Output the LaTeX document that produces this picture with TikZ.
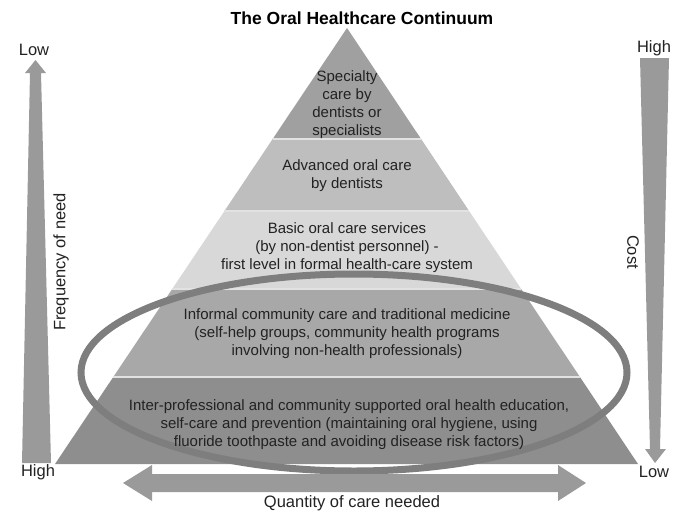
\documentclass[tikz,border=0pt]{standalone}
\usepackage{fontspec}
\setmainfont{Liberation Sans}
\usetikzlibrary{calc}
\definecolor{bandA}{HTML}{A0A0A0}
\definecolor{bandB}{HTML}{BEBEBE}
\definecolor{bandC}{HTML}{D8D8D8}
\definecolor{bandD}{HTML}{A8A8A8}
\definecolor{bandE}{HTML}{8E8E8E}
\definecolor{seam}{HTML}{E2E2E2}
\definecolor{ringcol}{HTML}{7E7E7E}
\definecolor{arrowcol}{HTML}{9A9A9A}
\definecolor{txt}{HTML}{222222}
\tikzset{
  band/.style={draw=seam, line width=1.2pt},
  bodytext/.style={align=center, text=txt, font=\fontsize{15}{18}\selectfont, inner sep=0pt},
  labeltext/.style={text=txt, font=\fontsize{16.5}{19}\selectfont, inner sep=0pt},
  bigarrow/.style={fill=arrowcol, draw=none}
}
\begin{document}
\begin{tikzpicture}[x=1pt,y=-1pt]
\useasboundingbox (0,0) rectangle (688,522);
\coordinate (A) at (347,28);
\coordinate (BL) at (55,464);
\coordinate (BR) at (638,464);
% pyramid bands
\fill[bandA] (A) -- ($(A)!0.2546!(BL)$) -- ($(A)!0.2546!(BR)$) -- cycle;
\fill[bandB] ($(A)!0.2546!(BL)$) -- ($(A)!0.4197!(BL)$) -- ($(A)!0.4197!(BR)$) -- ($(A)!0.2546!(BR)$) -- cycle;
\fill[bandC] ($(A)!0.4197!(BL)$) -- ($(A)!0.5986!(BL)$) -- ($(A)!0.5986!(BR)$) -- ($(A)!0.4197!(BR)$) -- cycle;
\fill[bandD] ($(A)!0.5986!(BL)$) -- ($(A)!0.8005!(BL)$) -- ($(A)!0.8005!(BR)$) -- ($(A)!0.5986!(BR)$) -- cycle;
\fill[bandE] ($(A)!0.8005!(BL)$) -- (BL) -- (BR) -- ($(A)!0.8005!(BR)$) -- cycle;
\foreach \t in {0.2546,0.4197,0.5986,0.8005}
  \draw[seam, line width=1.2pt] ($(A)!\t!(BL)$) -- ($(A)!\t!(BR)$);
% ellipse
\draw[ringcol, line width=7pt] (354,372.5) ellipse [x radius=273, y radius=98.5];
% texts in pyramid
\node[bodytext] (t1) at (347,105) {Specialty\\care by\\dentists or\\specialists};
\node[bodytext] (t2) at (347,176) {Advanced oral care\\by dentists};
\node[bodytext] (t3) at (347,248) {Basic oral care services\\(by non-dentist personnel) -\\first level in formal health-care system};
\node[bodytext] (t4) at (347,334) {Informal community care and traditional medicine\\(self-help groups, community health programs\\involving non-health professionals)};
\node[bodytext] (t5) at (349,425) {Inter-professional and community supported oral health education,\\self-care and prevention (maintaining oral hygiene, using\\fluoride toothpaste and avoiding disease risk factors)};
% title
\node[text=black, font=\fontsize{17.5}{20}\selectfont\bfseries, inner sep=0pt] (title) at (362,18) {The Oral Healthcare Continuum};
% left arrow (frequency)
\fill[bigarrow] (22,463) -- (30,73) -- (25,73) -- (35.5,60) -- (46,73) -- (41,73) -- (51,463) -- cycle;
% right arrow (cost)
\fill[bigarrow] (640,58) -- (669,58) -- (660,449) -- (666,449) -- (655,463) -- (645,449) -- (650,449) -- cycle;
% bottom double arrow
\fill[bigarrow] (123,483) -- (152,465) -- (152,474) -- (558,474) -- (558,465) -- (586,483) -- (558,501) -- (558,492) -- (152,492) -- (152,501) -- cycle;
% labels
\node[labeltext] (lowL) at (34,50) {Low};
\node[labeltext] (highL) at (38,472) {High};
\node[labeltext] (highR) at (654,48) {High};
\node[labeltext] (lowR) at (654,472) {Low};
\node[labeltext, rotate=90] (freq) at (61,262) {Frequency of need};
\node[labeltext, rotate=-90] (cost) at (633,252) {Cost};
\node[labeltext] (qty) at (352,503) {Quantity of care needed};
\end{tikzpicture}
\end{document}
